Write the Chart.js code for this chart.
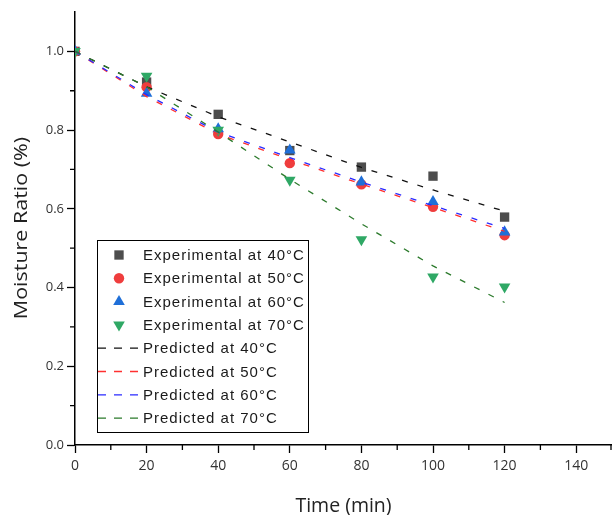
<!DOCTYPE html>
<html>
<head>
<meta charset="utf-8">
<script src="https://cdn.jsdelivr.net/npm/chart.js@4.4.1/dist/chart.umd.min.js"></script>
<style>
  html, body { margin: 0; padding: 0; background: #fff; }
  #wrap { width: 612px; height: 515px; }
</style>
</head>
<body>
<div id="wrap"><canvas id="mr" width="612" height="515"></canvas></div>
<script>
// Drying time (min) and moisture ratio readings.
var times = [ 0, 20, 40, 60, 80, 100, 120 ];

var exp40 = [ 1.0, 0.922, 0.840, 0.748, 0.706, 0.683, 0.579 ];
var exp50 = [ 1.0, 0.909, 0.790, 0.716, 0.662, 0.605, 0.533 ];
var exp60 = [ 1.0, 0.893, 0.803, 0.749, 0.668, 0.618, 0.541 ];
var exp70 = [ 1.0, 0.937, 0.800, 0.673, 0.522, 0.427, 0.402 ];

var pred40 = [ 1.0, 0.910, 0.834, 0.770, 0.705, 0.648, 0.594 ];
var pred50 = [ 1.0, 0.885, 0.790, 0.725, 0.663, 0.603, 0.543 ];
var pred60 = [ 1.0, 0.890, 0.795, 0.730, 0.668, 0.608, 0.550 ];
var pred70 = [ 1.0, 0.910, 0.795, 0.675, 0.562, 0.455, 0.362 ];

var xTickValues  = [ 0, 20, 40, 60, 80, 100, 120, 140 ];
var xMinorValues = [ 10, 30, 50, 70, 90, 110, 130, 150 ];
var yTickValues  = [ 0, 0.2, 0.4, 0.6, 0.8, 1.0 ];
var yMinorValues = [ 0.1, 0.3, 0.5, 0.7, 0.9 ];

var yTitle = 'Moisture Ratio (%)';

function toPoints( values ) {
	return values.map( function ( v, i ) {
		return { x: times[ i ], y: v };
	} );
}

function expSet( label, values, color, style, radius, rotation ) {
	return {
		label: label,
		data: toPoints( values ),
		showLine: false,
		pointStyle: style,
		pointRadius: radius,
		pointRotation: rotation,
		pointBackgroundColor: color,
		pointBorderWidth: 0,
		backgroundColor: color,
		borderColor: color,
	};
}

function predSet( label, values, color ) {
	return {
		label: label,
		data: toPoints( values ),
		showLine: true,
		pointRadius: 0,
		borderColor: color,
		backgroundColor: color,
		borderWidth: 1.3,
		borderDash: [ 6, 10 ],
		fill: false,
		tension: 0,
	};
}

var datasets = [
	expSet( 'Experimental at 40\u00B0C', exp40, '#4d4d4d', 'rect', 6.6, 0 ),
	expSet( 'Experimental at 50\u00B0C', exp50, '#ef3d3d', 'circle', 5.2, 0 ),
	expSet( 'Experimental at 60\u00B0C', exp60, '#1f6fd8', 'triangle', 6.7, 0 ),
	expSet( 'Experimental at 70\u00B0C', exp70, '#2fa865', 'triangle', 6.7, 180 ),
	predSet( 'Predicted at 40\u00B0C', pred40, '#111111' ),
	predSet( 'Predicted at 50\u00B0C', pred50, '#ff3030' ),
	predSet( 'Predicted at 60\u00B0C', pred60, '#2a2aff' ),
	predSet( 'Predicted at 70\u00B0C', pred70, '#2b7a2b' ),
];

// later series sit on top, like the original plot
datasets.forEach( function ( ds, i ) {
	ds.order = datasets.length - i;
} );

// Minor ticks, the stretched y title and the boxed legend inside the plot.
var extrasPlugin = {
	id: 'extras',
	afterDraw: function ( chart ) {
		var ctx = chart.ctx;
		var xs  = chart.scales.x;
		var ys  = chart.scales.y;

		ctx.save();
		ctx.strokeStyle = '#000';
		ctx.lineWidth = 1.3;
		ctx.beginPath();
		xMinorValues.forEach( function ( v ) {
			var px = Math.min( xs.getPixelForValue( v ), 611 );
			ctx.moveTo( px, ys.bottom );
			ctx.lineTo( px, ys.bottom + 5 );
		} );
		yMinorValues.forEach( function ( v ) {
			var py = ys.getPixelForValue( v );
			ctx.moveTo( xs.left, py );
			ctx.lineTo( xs.left - 5, py );
		} );
		ctx.stroke();

		// y title
		ctx.save();
		ctx.translate( 22, 228 );
		ctx.rotate( -Math.PI / 2 );
		ctx.scale( 1.13, 1 );
		ctx.font = '19px "Open Sans", sans-serif';
		ctx.fillStyle = '#222';
		ctx.textAlign = 'center';
		ctx.textBaseline = 'middle';
		ctx.fillText( yTitle, 0, 0 );
		ctx.restore();

		// legend box
		var left = 97, top = 240, width = 211, height = 192;
		ctx.fillStyle = '#fff';
		ctx.fillRect( left, top, width, height );
		ctx.lineWidth = 1;
		ctx.strokeRect( left + 0.5, top + 0.5, width, height );

		ctx.font = '15px "Liberation Sans", Arial, sans-serif';
		ctx.textBaseline = 'middle';
		ctx.letterSpacing = '1px';

		chart.data.datasets.forEach( function ( ds, i ) {
			var y = 255 + i * 23.3;
			if ( ds.showLine ) {
				ctx.save();
				ctx.strokeStyle = ds.borderColor;
				ctx.lineWidth = 1.3;
				ctx.setLineDash( [ 8, 8 ] );
				ctx.beginPath();
				ctx.moveTo( 98, y );
				ctx.lineTo( 142, y );
				ctx.stroke();
				ctx.restore();
			} else {
				ctx.fillStyle = ds.pointBackgroundColor;
				Chart.helpers.drawPoint( ctx, {
					pointStyle: ds.pointStyle,
					radius: ds.pointRadius,
					rotation: ds.pointRotation,
					borderWidth: 0,
				}, 119, y );
			}
			ctx.fillStyle = '#1a1a1a';
			ctx.fillText( ds.label, 143, y + 1 );
		} );
		ctx.restore();
	},
};

var tickFont  = { family: '"Open Sans", sans-serif', size: 14 };
var titleFont = { family: '"Open Sans", sans-serif', size: 19.5 };

new Chart( document.getElementById( 'mr' ), {
	type: 'scatter',
	data: { datasets: datasets },
	plugins: [ extrasPlugin ],
	options: {
		responsive: false,
		animation: false,
		events: [],
		layout: { autoPadding: false, padding: { top: 12, right: 0, left: 0, bottom: 0 } },
		plugins: {
			legend: { display: false },
			tooltip: { enabled: false },
		},
		scales: {
			x: {
				type: 'linear',
				position: 'bottom',
				min: 0,
				max: 150,
				afterBuildTicks: function ( scale ) {
					scale.ticks = xTickValues.map( function ( v ) { return { value: v }; } );
				},
				afterFit: function ( scale ) {
					scale.height = 70;
				},
				grid: { drawOnChartArea: false, tickLength: 8, color: '#000', tickWidth: 1.3 },
				border: { color: '#000', width: 1.5 },
				ticks: { color: '#333', font: tickFont, padding: 5 },
				title: { display: true, text: 'Time (min)', color: '#222', font: titleFont, padding: { top: 0, bottom: -3 } },
			},
			y: {
				type: 'linear',
				min: 0,
				max: 1.1,
				afterBuildTicks: function ( scale ) {
					scale.ticks = yTickValues.map( function ( v ) { return { value: v }; } );
				},
				afterFit: function ( scale ) {
					scale.width = 75;
				},
				grid: { drawOnChartArea: false, tickLength: 8, color: '#000', tickWidth: 1.3 },
				border: { color: '#000', width: 1.5 },
				ticks: {
					color: '#333',
					font: { family: '"Open Sans", sans-serif', size: 13 },
					padding: 3,
					callback: function ( v ) { return Number( v ).toFixed( 1 ); },
				},
				title: { display: false },
			},
		},
	},
} );
</script>
</body>
</html>
